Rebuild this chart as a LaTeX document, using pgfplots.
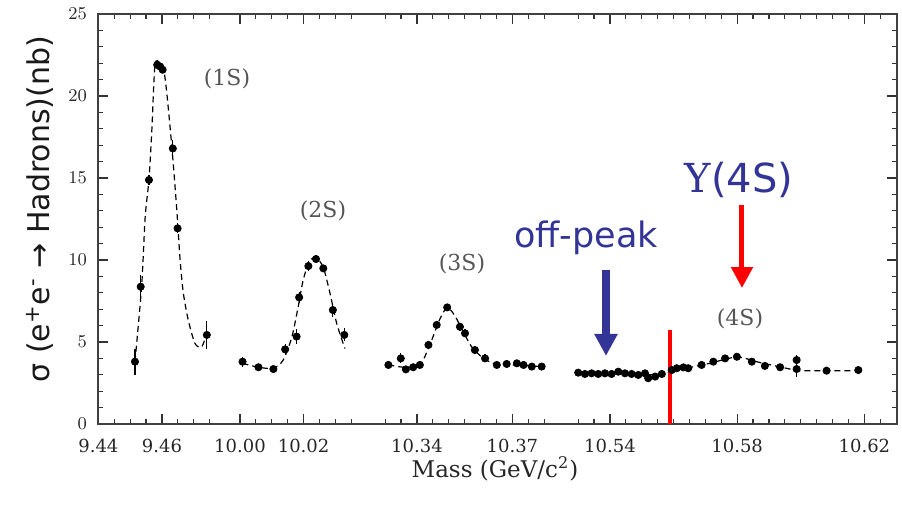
\documentclass[border=0pt]{standalone}
\usepackage{pgfplots}
\pgfplotsset{compat=1.18}
\usepackage{pgfplotstable}
\usetikzlibrary{arrows.meta}
\usepackage{fontspec}
\setmainfont{DejaVu Serif}
\newfontfamily\sansf{DejaVu Sans}
\definecolor{peakblue}{RGB}{50,52,150}
\definecolor{labgray}{RGB}{85,85,85}

% Measured hadronic cross sections: mass (GeV), sigma (nb), error (nb)
\pgfplotstableread{
m s e
9.4515 3.80 0.8
9.4533 8.37 0.7
9.4559 14.88 0.3
9.4585 21.90 0.2
9.4594 21.80 0.2
9.4602 21.60 0.2
9.4634 16.80 0.5
9.4649 11.93 0.3
9.4741 5.43 0.85
}\dataA
\pgfplotstableread{
m s e
10.0008 3.80 0.3
10.0058 3.46 0.15
10.0105 3.35 0.2
10.0142 4.55 0.3
10.0178 5.33 0.45
10.0186 7.72 0.35
10.0215 9.63 0.3
10.0239 10.06 0.2
10.0262 9.49 0.2
10.0292 6.95 0.4
10.0328 5.43 0.4
}\dataB
\pgfplotstableread{
m s e
10.3310 3.60 0.15
10.3349 4.00 0.3
10.3365 3.33 0.2
10.3388 3.46 0.2
10.3409 3.60 0.2
10.3436 4.82 0.2
10.3462 6.04 0.25
10.3495 7.11 0.2
10.3535 5.93 0.25
10.3551 5.53 0.25
10.3582 4.51 0.25
10.3614 4.00 0.25
10.3651 3.60 0.15
10.3682 3.66 0.15
10.3714 3.70 0.15
10.3735 3.60 0.1
10.3761 3.50 0.1
10.3792 3.50 0.1
}\dataC
\pgfplotstableread{
m s e
10.5300 3.13 0.1
10.5321 3.05 0.1
10.5342 3.09 0.1
10.5363 3.05 0.1
10.5384 3.09 0.1
10.5405 3.05 0.1
10.5426 3.19 0.1
10.5447 3.09 0.1
10.5468 3.05 0.1
10.5489 2.99 0.1
10.5510 3.09 0.1
10.5520 2.79 0.15
10.5542 2.89 0.1
10.5563 3.05 0.1
10.5594 3.29 0.1
10.5610 3.40 0.1
10.5631 3.45 0.1
10.5646 3.40 0.1
10.5688 3.60 0.1
10.5725 3.80 0.1
10.5762 4.00 0.1
10.5799 4.10 0.1
10.5846 3.80 0.1
10.5887 3.54 0.1
10.5935 3.46 0.1
10.5987 3.90 0.3
10.5987 3.35 0.5
10.6081 3.25 0.1
10.6181 3.29 0.1
}\dataD

% Resonance line shapes
\pgfplotstableread{
m s
9.4515 3.8
9.4536 8.4
9.4547 12.6
9.4559 14.9
9.4568 17.9
9.4578 21.9
9.4594 22.0
9.4604 21.8
9.4615 20.2
9.4631 16.9
9.4646 13.2
9.4657 10.0
9.4667 8.0
9.4683 6.3
9.4704 4.9
9.4725 4.7
9.4738 5.4
}\fitA
\pgfplotstableread{
m s
10.0008 3.7
10.0058 3.46
10.0105 3.4
10.0136 3.9
10.0163 5.3
10.0183 7.15
10.0199 8.8
10.0220 10.0
10.0241 10.1
10.0262 9.55
10.0283 7.97
10.0304 6.14
10.0330 4.6
}\fitB
\pgfplotstableread{
m s
10.3310 3.6
10.3365 3.45
10.3409 3.6
10.3420 3.9
10.3446 5.1
10.3472 6.4
10.3495 7.1
10.3519 6.6
10.3546 5.6
10.3572 4.7
10.3603 4.1
10.3640 3.7
10.3700 3.6
10.3792 3.5
}\fitC
\pgfplotstableread{
m s
10.5300 3.1
10.5431 3.08
10.5557 3.0
10.5595 3.25
10.5652 3.45
10.5714 3.7
10.5799 4.08
10.5871 3.75
10.5966 3.35
10.5997 3.25
10.6181 3.25
}\fitD

% Broken mass axis: each scan window is shifted onto a common scale
\newcommand{\segA}{162+(\thisrow{m}-9.46)*3180}
\newcommand{\segB}{240+(\thisrow{m}-10.00)*3180}
\newcommand{\segC}{417+(\thisrow{m}-10.34)*3180}
\newcommand{\segD}{610+(\thisrow{m}-10.54)*3180}

\pgfplotsset{
  pts/.style={black, only marks, mark=*, mark size=1.8pt,
    error bars/y dir=both, error bars/y explicit,
    error bars/error mark=none,
    error bars/error bar style={line width=0.6pt, black}},
  fit/.style={black, no marks, line width=0.6pt,
    dash pattern=on 3pt off 2pt, smooth, tension=0.45},
}

\begin{document}
\begin{tikzpicture}
\useasboundingbox (-49pt,-41.5pt) rectangle (402pt,212pt);
\begin{axis}[
  scale only axis, width=399.5pt, height=205pt,
  xmin=98, xmax=897, ymin=0, ymax=25,
  clip=false,
  axis line style={line width=1pt, black!75},
  tick align=inside,
  major tick length=5pt, minor tick length=2.5pt,
  tick style={line width=0.6pt, black!80},
  xtick={98.4,162,240,303.6,417,512.4,610,737.2,864.4},
  xticklabels={9.44,9.46,10.00,10.02,10.34,10.37,10.54,10.58,10.62},
  minor xtick={114.3,130.2,146.1,177.9,193.8,209.7,
    255.9,271.8,287.7,319.5,335.4,351.3,
    385.2,401.1,432.9,448.8,464.7,480.6,496.5,528.3,544.2,
    578.2,594.1,625.9,641.8,657.7,673.6,689.5,705.4,721.3,
    753.1,769.0,784.9,800.8,816.7,832.6,848.5,880.3},
  ytick={0,5,10,15,20,25},
  minor y tick num=4,
  xticklabel style={font=\fontsize{9}{10}\selectfont, text=black!85, yshift=-4pt},
  yticklabel style={font=\fontsize{9}{10}\selectfont, text=black!85, xshift=-2pt},
]
\addplot[fit] table[x expr={\segA}, y=s] {\fitA};
\addplot[fit] table[x expr={\segB}, y=s] {\fitB};
\addplot[fit] table[x expr={\segC}, y=s] {\fitC};
\addplot[fit] table[x expr={\segD}, y=s] {\fitD};

\addplot[pts] table[x expr={\segA}, y=s, y error=e] {\dataA};
\addplot[pts] table[x expr={\segB}, y=s, y error=e] {\dataB};
\addplot[pts] table[x expr={\segC}, y=s, y error=e] {\dataC};
\addplot[pts] table[x expr={\segD}, y=s, y error=e] {\dataD};

% resonance labels
\node[text=labgray, font=\fontsize{11}{13}\selectfont] at (axis cs:227,21.04) {(1S)};
\node[text=labgray, font=\fontsize{11}{13}\selectfont] at (axis cs:323,12.99) {(2S)};
\node[text=labgray, font=\fontsize{11}{13}\selectfont] at (axis cs:462,9.76) {(3S)};
\node[text=labgray, font=\fontsize{11}{13}\selectfont] at (axis cs:740,6.40) {(4S)};

% running points
\draw[red, line width=2pt] (axis cs:670,0) -- (axis cs:670,5.73);
\draw[red, line width=2.5pt, -{Triangle[width=10.5pt,length=10.5pt]}]
  (axis cs:742,13.35) -- (axis cs:742,8.29);
\draw[peakblue, line width=4pt, -{Triangle[width=11pt,length=11pt]}]
  (axis cs:606,9.39) -- (axis cs:606,4.15);
\node[text=peakblue, font=\sansf\fontsize{17.5}{20}\selectfont] at (axis cs:586,11.37) {off-peak};
\node[text=peakblue, font=\fontsize{20}{24}\selectfont] at (axis cs:739,14.88) {Υ{\sansf(4S)}};

% axis titles
\node[rotate=90, font=\sansf\fontsize{15}{17}\selectfont, text=black!90] at (axis cs:40,13.1)
  {σ (e\textsuperscript{+}e\textsuperscript{-} → Hadrons)(nb)};
\node[font=\fontsize{11.5}{14}\selectfont, text=black!85] at (axis cs:495,-2.75) {Mass (GeV/c\textsuperscript{2})};
\end{axis}
\end{tikzpicture}
\end{document}
